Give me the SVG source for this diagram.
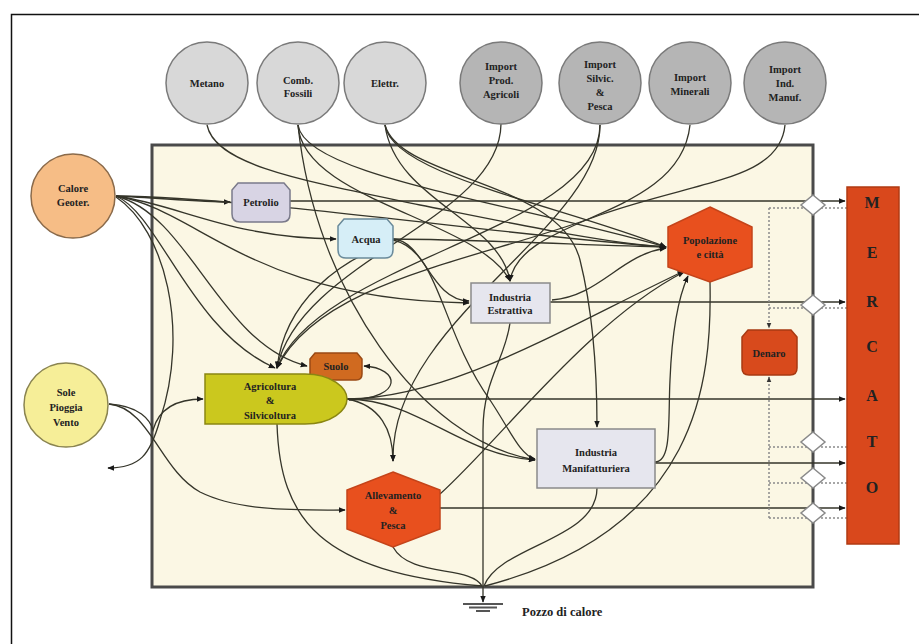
<svg xmlns="http://www.w3.org/2000/svg" width="919" height="644" viewBox="0 0 919 644">
<defs>
<marker id="ar" viewBox="0 0 10 10" refX="9" refY="5" markerUnits="userSpaceOnUse" markerWidth="7" markerHeight="7" orient="auto"><path d="M0,1 L10,5 L0,9 z" fill="#1a1a1a"/></marker>
<marker id="ard" viewBox="0 0 10 10" refX="9" refY="5" markerUnits="userSpaceOnUse" markerWidth="6" markerHeight="6" orient="auto"><path d="M0,1 L10,5 L0,9 z" fill="#333"/></marker>
<style>
text{font-family:"Liberation Serif","Times New Roman",serif;font-weight:bold;fill:#222;text-anchor:middle;font-size:10.5px}
.src{fill:#d8d8d8;stroke:#7a7a7a;stroke-width:1.5}
.imp{fill:#b5b5b5;stroke:#7a7a7a;stroke-width:1.5}
.c path{fill:none;stroke:#35352a;stroke-width:1.3}
.c .a{marker-end:url(#ar)}
.d path{fill:none;stroke:#8a8a8a;stroke-width:1.5;stroke-dasharray:2,2}
.dia{fill:#fff;stroke:#8a8a8a;stroke-width:1.5}
.hex{fill:#e8501e;stroke:#c4441a;stroke-width:1.5}
.box{fill:#e6e6ee;stroke:#8a8a8a;stroke-width:1.5}
.m{font-size:16px}
</style>
</defs>
<rect width="919" height="644" fill="#fff"/>
<rect x="11.5" y="14.5" width="920" height="650" fill="none" stroke="#111" stroke-width="1.5"/>
<rect id="system" x="152" y="145" width="661" height="442" fill="#fbf7e4" stroke="#4a4a4a" stroke-width="3"/>

<g id="connectors" class="c">
<path class="a" d="M116,196 C160,198 200,202 230,202"/>
<path class="a" d="M116,196 C180,205 230,238 336,239"/>
<path class="a" d="M116,196 C200,210 250,300 469,303"/>
<path class="a" d="M116,196 C190,215 220,345 307,366"/>
<path class="a" d="M116,196 C160,215 190,330 275,368"/>
<path class="a" d="M116,197 C165,230 190,330 160,420 C150,455 140,468 108,468"/>
<path class="a" d="M116,196 C260,198 500,235 666,247"/>
<path class="a" d="M109,404 C150,408 160,470 200,492 C240,512 300,510 345,510"/>
<path class="a" d="M109,404 C140,406 150,420 153,430 C158,412 172,399 203,399"/>
<path class="a" d="M347,399 L845,399"/>
<path class="a" d="M347,399 C420,400 460,455 535,460"/>
<path class="a" d="M347,399 C380,405 393,430 393,461"/>
<path class="a" d="M349,400 C405,398 400,368 364,366"/>
<path class="a" d="M347,399 C450,398 560,330 684,271"/>
<path d="M277,424 C280,520 320,572 482,586"/>
<path class="a" d="M440,508 L845,508"/>
<path class="a" d="M440,494 C500,440 590,320 684,272"/>
<path d="M393,547 C410,578 470,565 482,586"/>
<path class="a" d="M655,463 L845,463"/>
<path class="a" d="M655,462 C672,462 668,420 670,380 C672,330 678,298 688,276"/>
<path d="M597,488 C597,540 500,545 484,586"/>
<path d="M710,282 C712,380 700,530 485,586"/>
<path class="a" d="M550,302 L845,302"/>
<path class="a" d="M552,300 C600,296 620,255 666,248"/>
<path d="M510,323 C505,360 483,380 483,430 L483,586"/>
<path class="a" d="M290,201 L845,201"/>
<path class="a" d="M393,239 C500,240 600,246 666,247"/>
<path class="a" d="M393,239 C425,241 430,300 469,301"/>
<path class="a" d="M393,240 C440,250 440,330 490,400 C510,430 520,455 535,459"/>
<path class="a" d="M393,242 C340,260 285,300 277,368"/>
<path class="a" d="M207,125 C215,165 300,180 420,205 C520,225 600,242 666,247"/>
<path class="a" d="M298,125 C302,200 480,220 510,281"/>
<path class="a" d="M298,125 C315,290 420,440 535,460"/>
<path class="a" d="M298,125 C305,175 500,200 666,247"/>
<path class="a" d="M385,125 C392,175 560,205 666,247"/>
<path class="a" d="M385,125 C395,200 500,220 510,281"/>
<path class="a" d="M385,125 C400,180 560,180 580,260 C595,320 597,380 597,427"/>
<path class="a" d="M501,124 C500,220 300,260 277,368"/>
<path class="a" d="M600,125 C600,230 390,320 393,461"/>
<path class="a" d="M600,125 C600,230 320,260 277,368"/>
<path class="a" d="M690,125 C680,220 520,215 510,281"/>
<path class="a" d="M785,125 C780,180 700,180 600,215 C480,260 320,280 277,368"/>
<path class="a" d="M483,586 L483,602"/>
</g>

<g id="money" class="d">
<path d="M847,208 L769,208"/>
<path marker-end="url(#ard)" d="M769,208 L769,328"/>
<path d="M847,308 L769,308"/>
<path d="M847,447 L769,447"/>
<path d="M847,483 L769,483"/>
<path d="M847,518 L769,518"/>
<path marker-end="url(#ard)" d="M769,518 L769,377"/>
</g>

<g id="valves">
<path class="dia" d="M813,195 L825,205 L813,215 L801,205 Z"/>
<path class="dia" d="M813,295 L825,305 L813,315 L801,305 Z"/>
<path class="dia" d="M813,432 L825,442 L813,452 L801,442 Z"/>
<path class="dia" d="M813,468 L825,478 L813,488 L801,478 Z"/>
<path class="dia" d="M813,503 L825,513 L813,523 L801,513 Z"/>
</g>

<g id="metano"><circle class="src" cx="207" cy="83" r="41"/><text x="207" y="86.5">Metano</text></g>
<g id="comb-fossili"><circle class="src" cx="298" cy="83" r="41"/><text x="298" y="83.5">Comb.</text><text x="298" y="96.5">Fossili</text></g>
<g id="elettr"><circle class="src" cx="385" cy="83" r="41"/><text x="385" y="86.5">Elettr.</text></g>
<g id="import-agricoli"><circle class="imp" cx="501" cy="83" r="41"/><text x="501" y="69.5">Import</text><text x="501" y="83.5">Prod.</text><text x="501" y="97.5">Agricoli</text></g>
<g id="import-silvic"><circle class="imp" cx="600" cy="83" r="41"/><text x="600" y="67.5">Import</text><text x="600" y="81.5">Silvic.</text><text x="600" y="95.5">&amp;</text><text x="600" y="109.5">Pesca</text></g>
<g id="import-minerali"><circle class="imp" cx="690" cy="83" r="41"/><text x="690" y="80.5">Import</text><text x="690" y="94.5">Minerali</text></g>
<g id="import-manuf"><circle class="imp" cx="785" cy="83" r="41"/><text x="785" y="72.5">Import</text><text x="785" y="86.5">Ind.</text><text x="785" y="100.5">Manuf.</text></g>

<g id="calore"><circle cx="73" cy="196" r="42" fill="#f6bd86" stroke="#8a6a4a" stroke-width="1.5"/><text x="73" y="191.5">Calore</text><text x="73" y="205.5">Geoter.</text></g>
<g id="sole"><circle cx="66" cy="405" r="42" fill="#f6ee98" stroke="#8a8450" stroke-width="1.5"/><text x="66" y="395.5">Sole</text><text x="66" y="410.5">Pioggia</text><text x="66" y="425.5">Vento</text></g>

<g id="petrolio"><path d="M238,183 L284,183 L290,190 L290,214 Q290,222 282,222 L240,222 Q232,222 232,214 L232,190 Z" fill="#d8d4e4" stroke="#7a7a8a" stroke-width="1.5"/><text x="261" y="205.5">Petrolio</text></g>
<g id="acqua"><path d="M344,219 L387,219 L393,226 L393,250 Q393,258 385,258 L346,258 Q338,258 338,250 L338,226 Z" fill="#d6eef7" stroke="#6a8a9a" stroke-width="1.5"/><text x="366" y="242.5">Acqua</text></g>
<g id="industria-estrattiva"><rect class="box" x="471" y="283" width="79" height="40"/><text x="510" y="300.5">Industria</text><text x="510" y="313.5">Estrattiva</text></g>
<g id="popolazione"><path class="hex" d="M710,207 L752,227 L752,267 L710,282 L668,267 L668,227 Z"/><text x="710" y="243.5">Popolazione</text><text x="710" y="257.5">e città</text></g>
<g id="suolo"><path d="M315,353 L357,353 L362,359 L362,374 Q362,380 356,380 L316,380 Q310,380 310,374 L310,359 Z" fill="#d06a20" stroke="#9a4a14" stroke-width="1.5"/><text x="336" y="369.5">Suolo</text></g>
<g id="agricoltura"><path d="M205,374 L305,374 C332,374 347,388 347,399 C347,410 332,424 305,424 L205,424 Z" fill="#cbc81e" stroke="#8a8612" stroke-width="1.5"/><text x="270" y="389.5">Agricoltura</text><text x="270" y="403.5">&amp;</text><text x="270" y="418.5">Silvicoltura</text></g>
<g id="allevamento"><path class="hex" d="M393,472 L440,490 L440,529 L393,547 L347,529 L347,490 Z"/><text x="393" y="498.5">Allevamento</text><text x="393" y="513.5">&amp;</text><text x="393" y="528.5">Pesca</text></g>
<g id="industria-manifatturiera"><rect class="box" x="537" y="429" width="118" height="59"/><text x="596" y="455.5">Industria</text><text x="596" y="471.5">Manifatturiera</text></g>
<g id="denaro"><path d="M748,330 L791,330 L797,337 L797,368 Q797,375 790,375 L749,375 Q742,375 742,368 L742,337 Z" fill="#d84a1c" stroke="#a83a12" stroke-width="1.5"/><text x="769" y="356.5">Denaro</text></g>

<g id="mercato"><rect x="847" y="187" width="52" height="357" fill="#d9481c" stroke="#b03a12" stroke-width="1.5"/>
<text class="m" x="872" y="208">M</text><text class="m" x="872" y="258">E</text><text class="m" x="872" y="307">R</text><text class="m" x="872" y="352">C</text><text class="m" x="872" y="401">A</text><text class="m" x="872" y="447">T</text><text class="m" x="872" y="493">O</text></g>

<g id="pozzo-di-calore"><path d="M463,604 L503,604 M469,607.5 L497,607.5 M476,611 L490,611" stroke="#555" stroke-width="2" fill="none"/><text x="522" y="616" style="text-anchor:start;font-size:12.5px">Pozzo di calore</text></g>
</svg>
